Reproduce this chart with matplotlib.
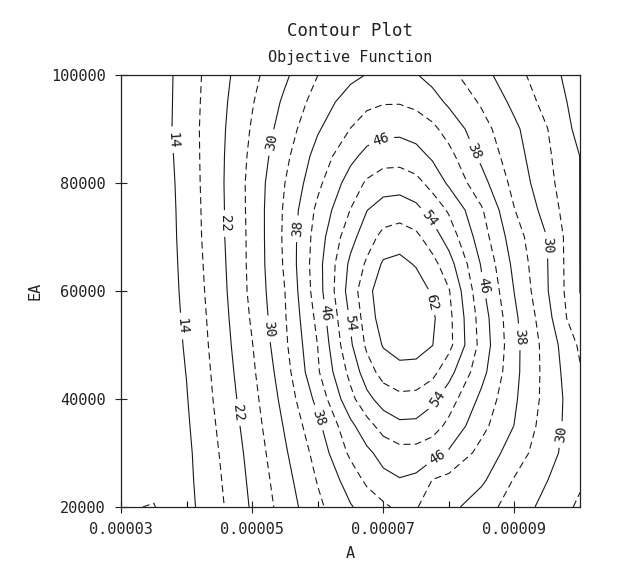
import matplotlib
matplotlib.use('Agg')
import matplotlib.pyplot as plt
import numpy as np

plt.rcParams['font.family'] = ['DejaVu Sans Mono', 'DejaVu Sans']
plt.rcParams['lines.scale_dashes'] = False
plt.rcParams['lines.dashed_pattern'] = [5, 3]

# grid of the objective function
A = [3.0e-5, 3.5e-5, 4.0e-5, 4.5e-5, 5.0e-5, 5.5e-5, 6.0e-5, 6.5e-5, 6.75e-5,
     7.0e-5, 7.25e-5, 7.5e-5, 7.75e-5, 8.0e-5, 8.5e-5, 9.0e-5, 9.5e-5, 10.0e-5]
EA = [20000, 25000, 30000, 35000, 40000, 45000, 50000, 55000, 60000,
      65000, 70000, 75000, 80000, 85000, 90000, 95000, 100000]

z_20000 = [10.3, 9.85, 12.8, 17.2, 22.5, 27.8, 33.1, 37.7, 39.5, 41.28, 42.9, 42.2, 40.68, 39.19, 35.8, 32.2, 28.7, 25.3]
z_25000 = [10.6, 10.9, 13.01, 17.62, 22.95, 28.56, 34.27, 39.81, 42.84, 44.88, 45.76, 45.09, 41.9, 40.87, 38.69, 33.72, 30.08, 26.6]
z_30000 = [10.8, 11.6, 13.15, 18.06, 23.42, 29.47, 35.47, 42.79, 45.13, 47.39, 48.58, 48.55, 47.55, 45.5, 40.63, 36.11, 31.26, 27.6]
z_35000 = [10.6, 11.5, 13.48, 18.53, 24.04, 30.38, 37.04, 45.0, 48.48, 51.59, 53.08, 52.97, 51.64, 49.02, 43.15, 37.89, 31.96, 27.6]
z_40000 = [10.5, 11.4, 13.8, 19.02, 24.62, 31.4, 39.2, 48.83, 52.87, 55.72, 57.0, 56.77, 54.83, 51.84, 45.01, 38.56, 32.56, 27.2]
z_45000 = [10.45, 10.6, 14.1, 19.4, 25.28, 32.32, 41.5, 51.2, 56.15, 59.55, 60.7, 60.57, 59.2, 55.37, 47.28, 39.05, 32.54, 26.4]
z_50000 = [10.4, 10.6, 14.42, 19.81, 25.85, 33.24, 42.06, 53.4, 58.77, 62.32, 63.69, 63.55, 62.07, 59.23, 48.54, 39.16, 32.38, 25.3]
z_55000 = [10.4, 10.6, 14.72, 20.12, 26.5, 33.68, 43.06, 54.5, 59.97, 63.83, 65.24, 64.81, 62.6, 59.1, 48.1, 38.82, 31.34, 22.3]
z_60000 = [10.4, 10.6, 15.02, 20.44, 27.02, 34.0, 44.2, 55.78, 60.85, 64.19, 65.3, 64.37, 61.43, 58.3, 46.84, 37.88, 30.27, 21.97]
z_65000 = [10.45, 10.6, 15.25, 20.71, 27.16, 34.52, 44.5, 54.86, 58.61, 62.56, 63.2, 61.63, 59.29, 55.63, 45.6, 36.94, 30.13, 21.95]
z_70000 = [10.5, 10.6, 15.48, 20.98, 27.16, 34.73, 43.93, 52.63, 56.29, 59.12, 59.89, 58.9, 55.89, 52.34, 43.83, 35.79, 29.93, 21.95]
z_75000 = [10.5, 10.6, 15.63, 21.03, 27.27, 34.57, 42.93, 50.1, 53.9, 55.83, 56.26, 55.03, 52.42, 49.49, 42.42, 34.11, 28.38, 21.95]
z_80000 = [10.5, 10.75, 15.78, 21.13, 27.31, 34.0, 41.04, 47.83, 50.54, 52.03, 52.22, 51.2, 48.63, 45.38, 39.4, 32.7, 27.23, 21.95]
z_85000 = [10.55, 11.08, 15.94, 21.09, 26.92, 32.96, 39.55, 44.92, 47.19, 48.32, 48.41, 47.41, 45.4, 43.21, 37.05, 31.68, 26.63, 21.95]
z_90000 = [10.6, 11.39, 16.09, 20.98, 26.38, 31.85, 37.56, 42.07, 43.9, 44.85, 44.94, 44.28, 42.88, 40.45, 35.5, 30.8, 26.1, 20.67]
z_95000 = [10.6, 11.33, 16.01, 20.75, 25.72, 30.74, 35.71, 39.96, 41.1, 41.7, 41.73, 40.99, 39.43, 37.33, 33.49, 29.0, 24.63, 20.27]
z_100000 = [10.6, 11.26, 15.94, 20.45, 24.92, 29.33, 33.96, 36.95, 38.16, 38.7, 38.95, 38.2, 36.75, 35.1, 31.37, 27.4, 23.57, 19.83]

solid_levels = [14, 22, 30, 38, 46, 54, 62]
dashed_levels = [10, 18, 26, 34, 42, 50, 58]

xtick_vals = [3e-5, 5e-5, 7e-5, 9e-5]
xtick_labels = ['0.00003', '0.00005', '0.00007', '0.00009']
xminor_vals = [4e-5, 6e-5, 8e-5]
ytick_vals = [20000, 40000, 60000, 80000, 100000]
ytick_labels = ['20000', '40000', '60000', '80000', '100000']

Z = np.array([z_20000, z_25000, z_30000, z_35000, z_40000, z_45000,
              z_50000, z_55000, z_60000, z_65000, z_70000, z_75000,
              z_80000, z_85000, z_90000, z_95000, z_100000])

fig = plt.figure(figsize=(6.21, 5.64), dpi=100)
ax = fig.add_axes([121 / 621, 1 - 507 / 564, 459 / 621, 432 / 564])

ink = '#1a1a1a'
ax.contour(A, EA, Z, levels=dashed_levels, colors=ink,
           linewidths=0.8, linestyles='dashed')
cs = ax.contour(A, EA, Z, levels=solid_levels, colors=ink,
                linewidths=0.8, linestyles='solid')

# where the labels sit in the reference
label_spots = [(3.78e-5, 88000), (3.92e-5, 53500),
               (4.6e-5, 72500), (4.78e-5, 37500),
               (5.3e-5, 87500), (5.26e-5, 53000), (9.47e-5, 68500), (9.66e-5, 33500),
               (5.72e-5, 71500), (6.0e-5, 36500), (8.37e-5, 85800), (9.07e-5, 51500),
               (6.98e-5, 87800), (6.11e-5, 56000), (8.49e-5, 61000), (7.84e-5, 29000),
               (7.68e-5, 73300), (6.46e-5, 54000), (7.82e-5, 40000),
               (7.75e-5, 58000)]
ax.clabel(cs, manual=label_spots, inline=True,
          inline_spacing=5, fmt='%d', fontsize=10)

ax.set_xlim(3e-5, 1e-4)
ax.set_ylim(20000, 100000)
ax.set_xticks(xtick_vals)
ax.set_xticklabels(xtick_labels)
ax.set_xticks(xminor_vals, minor=True)
ax.set_yticks(ytick_vals)
ax.set_yticklabels(ytick_labels)
ax.tick_params(which='major', direction='inout', length=8, width=0.8,
               labelsize=11, pad=7, color='#222222', labelcolor='#222222')
ax.tick_params(which='minor', axis='x', direction='in', length=4.5, width=0.8)
for sp in ax.spines.values():
    sp.set_linewidth(0.9)
    sp.set_color('#222222')

ax.set_xlabel('A', fontsize=11, labelpad=6, color='#222222')
ax.set_ylabel('EA', fontsize=11, labelpad=6, color='#222222')

fig.text(350.5 / 621, 1 - 31 / 564, 'Contour Plot', ha='center', va='center',
         fontsize=12.5, color='#222222')
fig.text(350.5 / 621, 1 - 57.5 / 564, 'Objective Function', ha='center',
         va='center', fontsize=11, color='#222222')

fig.savefig('out.png', dpi=100)
